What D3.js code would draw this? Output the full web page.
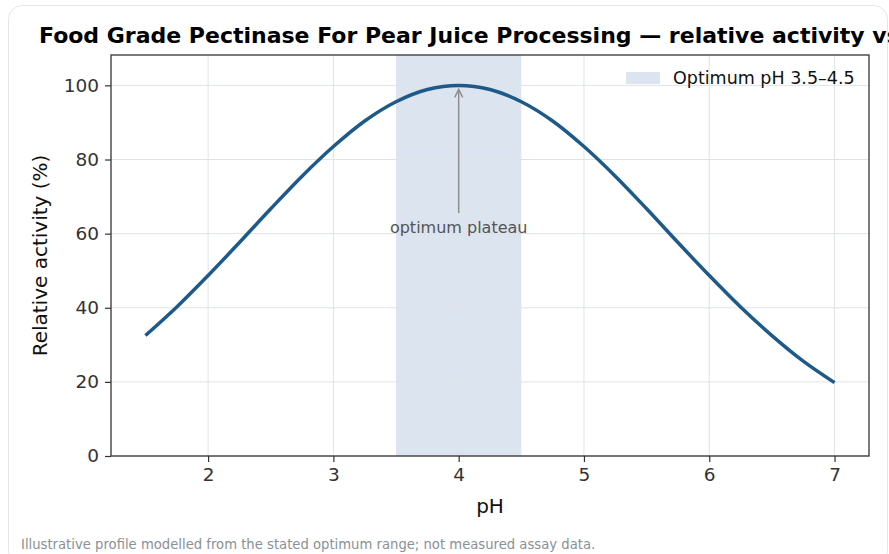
<!DOCTYPE html>
<html>
<head>
<meta charset="utf-8">
<script src="https://cdn.jsdelivr.net/npm/d3@7"></script>
<style>
  html, body { margin: 0; padding: 0; background: #fff; }
  body { width: 889px; height: 554px; overflow: hidden; }
  svg { display: block; font-family: "DejaVu Sans", sans-serif; }
</style>
</head>
<body>
<svg id="viz" width="889" height="554"></svg>
<script>
// pH values and relative activity
var phValues = [1.5, 1.75, 2, 2.25, 2.5, 2.75, 3, 3.25, 3.5, 3.75, 4,
                4.25, 4.5, 4.75, 5, 5.25, 5.5, 5.75, 6, 6.25, 6.5, 6.75, 7];
var activity = [32.5, 40.2, 48.7, 57.6, 66.7, 75.5, 83.5, 90.4, 95.6, 98.9, 100,
                98.9, 95.6, 90.4, 83.5, 75.5, 66.7, 57.6, 48.7, 40.2, 32.5, 25.6, 19.8];
var optimumRange = [3.5, 4.5];
var xTicks = [2, 3, 4, 5, 6, 7];
var yTicks = [0, 20, 40, 60, 80, 100];
var peak = { ph: 4, value: 100, labelValue: 65 };

var svg = d3.select('#viz');

var margin = { left: 111, right: 20, top: 55, bottom: 98 },
    width = 889 - margin.left - margin.right,
    height = 554 - margin.top - margin.bottom;

// card
svg.append('rect')
    .attr('x', 8.5).attr('y', 5.5)
    .attr('width', 879).attr('height', 560)
    .attr('rx', 14)
    .attr('fill', '#fff')
    .attr('stroke', '#e3e6ea')
    .attr('stroke-width', 1);

var xScale = d3.scaleLinear()
    .domain([1.225, 7.275])
    .range([margin.left, margin.left + width]);

var yScale = d3.scaleLinear()
    .domain([0, 108.2])
    .range([margin.top + height, margin.top]);

var g = svg.append('g');

// optimum band
g.append('rect')
    .attr('x', xScale(optimumRange[0]))
    .attr('y', margin.top)
    .attr('width', xScale(optimumRange[1]) - xScale(optimumRange[0]))
    .attr('height', height)
    .attr('fill', '#dbe4ef');

// grid
g.selectAll('.gx').data(xTicks).enter().append('line')
    .attr('x1', d => xScale(d)).attr('x2', d => xScale(d))
    .attr('y1', margin.top).attr('y2', margin.top + height)
    .attr('stroke', '#dfe3e8').attr('stroke-width', 1);
g.selectAll('.gy').data(yTicks).enter().append('line')
    .attr('x1', margin.left).attr('x2', margin.left + width)
    .attr('y1', d => yScale(d)).attr('y2', d => yScale(d))
    .attr('stroke', '#dfe3e8').attr('stroke-width', 1);

// curve
var line = d3.line()
    .x((d, i) => xScale(phValues[i]))
    .y(d => yScale(d))
    .curve(d3.curveCatmullRom.alpha(0.5));

g.append('path')
    .datum(activity)
    .attr('d', line)
    .attr('fill', 'none')
    .attr('stroke', '#1d5a8a')
    .attr('stroke-width', 3.5);

// annotation arrow
var ax = xScale(peak.ph), ay = yScale(peak.value) + 4, by = yScale(peak.labelValue) - 2;
g.append('line')
    .attr('x1', ax).attr('x2', ax)
    .attr('y1', by).attr('y2', ay)
    .attr('stroke', '#8f8f8f').attr('stroke-width', 1.5);
g.append('path')
    .attr('d', 'M' + (ax - 4) + ',' + (ay + 8) + 'L' + ax + ',' + ay + 'L' + (ax + 4) + ',' + (ay + 8))
    .attr('fill', 'none')
    .attr('stroke', '#8f8f8f').attr('stroke-width', 1.5);
g.append('text')
    .attr('x', ax).attr('y', by + 20)
    .attr('text-anchor', 'middle')
    .attr('font-size', 16)
    .attr('fill', '#555')
    .text('optimum plateau');

// axes
var xAxis = d3.axisBottom(xScale).tickValues(xTicks).tickFormat(d3.format('d')).tickSize(6).tickPadding(6);
var yAxis = d3.axisLeft(yScale).tickValues(yTicks).tickFormat(d3.format('d')).tickSize(6).tickPadding(6);

var gx = svg.append('g')
    .attr('transform', 'translate(0,' + (margin.top + height) + ')')
    .call(xAxis);
var gy = svg.append('g')
    .attr('transform', 'translate(' + margin.left + ',0)')
    .call(yAxis);

[gx, gy].forEach(function (a) {
    a.select('.domain').remove();
    a.selectAll('line').attr('stroke', '#333').attr('stroke-width', 1.2);
    a.selectAll('text')
        .attr('font-family', 'DejaVu Sans')
        .attr('font-size', 18.5)
        .attr('fill', '#333');
});

// frame
svg.append('rect')
    .attr('x', margin.left).attr('y', margin.top)
    .attr('width', width).attr('height', height)
    .attr('fill', 'none')
    .attr('stroke', '#333').attr('stroke-width', 1.3);

// legend
svg.append('rect')
    .attr('x', 626).attr('y', 72)
    .attr('width', 34).attr('height', 12)
    .attr('fill', '#dbe4ef');
svg.append('text')
    .attr('x', 673).attr('y', 84)
    .attr('font-size', 17.5)
    .attr('fill', '#111')
    .text('Optimum pH 3.5\u20134.5');

// labels
svg.append('text')
    .attr('x', margin.left + width / 2).attr('y', 513)
    .attr('text-anchor', 'middle')
    .attr('font-size', 20)
    .attr('fill', '#111')
    .text('pH');
svg.append('text')
    .attr('transform', 'translate(47,' + (margin.top + height / 2) + ') rotate(-90)')
    .attr('text-anchor', 'middle')
    .attr('font-size', 20)
    .attr('fill', '#111')
    .text('Relative activity (%)');

svg.append('text')
    .attr('x', 39).attr('y', 43)
    .attr('font-size', 22)
    .attr('font-weight', 'bold')
    .attr('fill', '#000')
    .text('Food Grade Pectinase For Pear Juice Processing \u2014 relative activity vs pH');

svg.append('text')
    .attr('x', 21).attr('y', 549)
    .attr('font-size', 13.2)
    .attr('fill', '#8a9096')
    .text('Illustrative profile modelled from the stated optimum range; not measured assay data.');
</script>
</body>
</html>
